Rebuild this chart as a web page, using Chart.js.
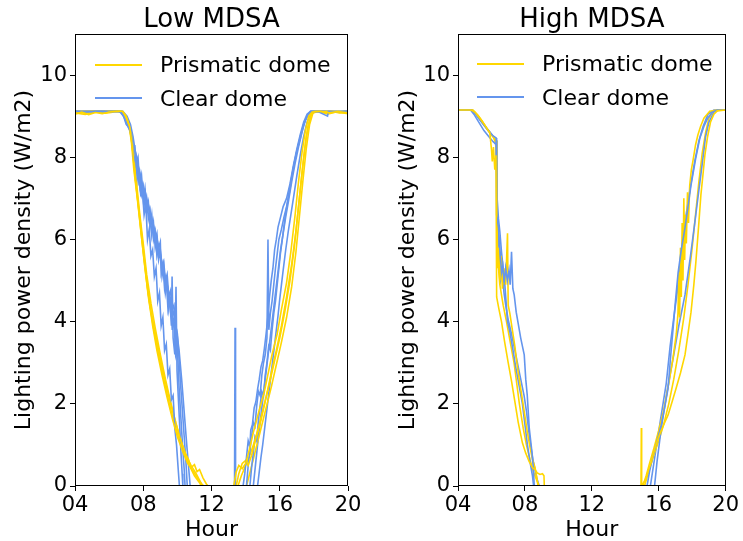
<!DOCTYPE html>
<html>
<head>
<meta charset="utf-8">
<script src="https://cdn.jsdelivr.net/npm/chart.js@4.4.1/dist/chart.umd.min.js"></script>
<style>
  html, body { margin: 0; padding: 0; background: #fff; }
  #wrap { position: relative; width: 743px; height: 541px; overflow: hidden; font-family: "DejaVu Sans", sans-serif; }
  canvas { position: absolute; top: 0; }
  .legend { position: absolute; }
  .legend .row { display: flex; align-items: center; height: 33.5px; font-size: 22px; line-height: 33.5px; color: #000; white-space: nowrap; }
  .legend .swatch { width: 47px; height: 2px; margin-right: 18px; }
</style>
</head>
<body>
<div id="wrap">
  <canvas id="lowChart" width="371" height="541" style="left:0"></canvas>
  <canvas id="highChart" width="372" height="541" style="left:371px"></canvas>
  <div class="legend" id="lowLegend" style="left:95px;top:48px"></div>
  <div class="legend" id="highLegend" style="left:477px;top:47px"></div>
</div>
<script>
// Axis ticks and labels
const hourTicks = [4, 8, 12, 16, 20];
const powerTicks = [0, 2, 4, 6, 8, 10];
const seriesNames = ['Prismatic dome', 'Clear dome'];
const seriesColors = ['#FFD700', '#6495ED'];

// Low MDSA, prismatic dome: daily profiles [hour, W/m2]
const lowPrism1 = [[4.00,9.05],[4.40,9.10],[4.80,9.04],[5.20,9.09],[5.60,9.06],[6.00,9.10],[6.40,9.12],[6.80,9.12],[7.00,9.00],[7.20,8.75],[7.35,8.30],[7.50,7.60],[7.70,6.85],[7.90,6.05],[8.10,5.30],[8.30,4.60],[8.55,3.90],[8.80,3.30],[9.10,2.70],[9.40,2.15],[9.70,1.65],[10.00,1.20],[10.30,0.85],[10.60,0.55],[10.90,0.38],[11.20,0.18],[11.45,0.04],[11.55,0.00],[13.30,0.00],[13.45,0.35],[13.60,0.50],[13.80,0.42],[14.00,0.55],[14.20,0.85],[14.45,1.30],[14.80,1.85],[15.10,2.30],[15.30,2.70],[15.55,3.20],[15.85,3.70],[16.10,4.30],[16.40,4.95],[16.65,5.70],[16.90,6.60],[17.10,7.40],[17.30,8.10],[17.50,8.65],[17.70,9.00],[17.90,9.10],[18.40,9.12],[18.90,9.08],[19.40,9.11],[20.00,9.08]];
const lowPrism2 = [[4.00,9.10],[4.50,9.08],[5.00,9.12],[5.50,9.10],[6.00,9.12],[6.60,9.12],[6.90,9.05],[7.10,8.85],[7.30,8.55],[7.45,8.00],[7.60,7.40],[7.80,6.60],[8.00,5.90],[8.20,5.15],[8.45,4.45],[8.70,3.85],[9.00,3.20],[9.30,2.60],[9.60,2.05],[9.90,1.55],[10.20,1.10],[10.45,0.80],[10.65,0.65],[10.80,0.45],[11.00,0.52],[11.15,0.35],[11.30,0.40],[11.50,0.20],[11.70,0.05],[11.80,0.00],[13.45,0.00],[13.60,0.30],[13.80,0.55],[14.00,0.62],[14.15,0.50],[14.35,0.75],[14.60,1.15],[14.90,1.60],[15.20,2.15],[15.50,2.75],[15.80,3.30],[16.10,3.90],[16.40,4.60],[16.70,5.40],[16.95,6.20],[17.15,7.00],[17.35,7.80],[17.55,8.50],[17.80,9.00],[18.00,9.12],[18.50,9.10],[19.00,9.12],[19.50,9.08],[20.00,9.10]];
const lowPrism3 = [[4.00,9.12],[5.00,9.12],[6.00,9.12],[6.70,9.12],[6.95,9.02],[7.15,8.80],[7.30,8.40],[7.45,7.70],[7.65,7.00],[7.85,6.25],[8.05,5.50],[8.25,4.80],[8.50,4.15],[8.80,3.50],[9.10,2.90],[9.40,2.35],[9.70,1.85],[10.00,1.40],[10.30,1.00],[10.55,0.70],[10.80,0.50],[11.10,0.30],[11.35,0.10],[11.45,0.00],[13.55,0.00],[13.75,0.25],[13.95,0.45],[14.20,0.70],[14.50,1.05],[14.80,1.50],[15.10,2.00],[15.40,2.50],[15.70,3.05],[16.00,3.60],[16.30,4.25],[16.60,5.00],[16.85,5.80],[17.05,6.60],[17.25,7.40],[17.45,8.15],[17.65,8.75],[17.85,9.05],[18.10,9.12],[19.00,9.12],[20.00,9.12]];
const lowPrism4 = [[4.00,9.08],[4.60,9.04],[5.20,9.10],[5.80,9.07],[6.40,9.11],[6.80,9.10],[7.05,8.92],[7.25,8.60],[7.40,8.10],[7.55,7.45],[7.75,6.70],[7.95,5.95],[8.15,5.20],[8.35,4.50],[8.60,3.85],[8.90,3.20],[9.20,2.60],[9.50,2.05],[9.80,1.55],[10.10,1.15],[10.40,0.80],[10.70,0.50],[11.00,0.25],[11.30,0.08],[11.40,0.00],[14.05,0.00],[14.30,0.40],[14.60,0.90],[14.90,1.40],[15.20,1.90],[15.50,2.40],[15.80,2.95],[16.10,3.50],[16.40,4.10],[16.70,4.85],[16.95,5.70],[17.15,6.55],[17.35,7.40],[17.55,8.20],[17.75,8.80],[17.95,9.08],[18.30,9.12],[18.80,9.05],[19.30,9.10],[20.00,9.06]];

// Low MDSA, clear dome
const lowClear1 = [[4.00,9.12],[4.60,9.10],[5.20,9.12],[5.80,9.11],[6.40,9.12],[6.70,9.10],[6.90,8.95],[7.10,8.75],[7.25,8.62],[7.35,8.40],[7.45,7.90],[7.55,8.05],[7.65,7.50],[7.75,7.65],[7.85,7.10],[7.95,7.20],[8.05,6.60],[8.15,6.85],[8.25,6.00],[8.35,6.25],[8.45,5.60],[8.55,5.75],[8.65,5.10],[8.75,5.30],[8.85,4.50],[8.95,4.70],[9.05,3.90],[9.15,4.10],[9.25,3.30],[9.35,3.45],[9.45,2.70],[9.55,2.85],[9.65,2.10],[9.75,2.20],[9.85,1.40],[9.95,1.00],[10.05,0.40],[10.12,0.00],[13.85,0.00],[13.95,0.30],[14.05,0.70],[14.15,1.10],[14.25,0.95],[14.30,1.36],[14.40,1.50],[14.50,1.90],[14.60,2.05],[14.70,2.35],[14.80,2.60],[14.90,2.90],[15.00,3.05],[15.10,3.35],[15.20,3.70],[15.30,4.10],[15.40,4.60],[15.50,5.00],[15.60,5.30],[15.70,5.75],[15.80,6.00],[15.90,6.30],[16.05,6.55],[16.20,6.80],[16.40,7.00],[16.60,7.35],[16.80,7.80],[17.00,8.20],[17.20,8.55],[17.40,8.85],[17.60,9.05],[17.80,9.12],[18.30,9.10],[18.80,9.00],[18.85,9.12],[19.40,9.11],[20.00,9.12]];
const lowClear2 = [[4.00,9.12],[5.00,9.11],[6.00,9.12],[6.60,9.12],[6.85,9.00],[7.00,8.80],[7.20,8.70],[7.35,8.55],[7.42,8.00],[7.50,8.30],[7.60,7.70],[7.70,7.95],[7.80,7.30],[7.90,7.55],[8.00,7.00],[8.10,7.25],[8.20,6.70],[8.30,6.90],[8.40,6.30],[8.50,6.60],[8.60,6.00],[8.70,6.20],[8.80,5.60],[8.90,5.80],[9.00,5.94],[9.05,5.20],[9.15,5.40],[9.25,4.80],[9.35,5.00],[9.45,4.30],[9.55,4.55],[9.65,3.90],[9.69,5.10],[9.75,3.60],[9.85,3.20],[9.92,4.85],[9.98,2.80],[10.05,2.20],[10.12,1.60],[10.20,0.90],[10.28,0.30],[10.32,0.00],[13.35,0.00],[13.38,3.85],[13.41,0.00],[14.05,0.00],[14.15,0.50],[14.25,0.85],[14.35,1.20],[14.45,1.55],[14.55,1.45],[14.65,1.95],[14.75,2.30],[14.85,2.20],[14.95,2.70],[15.05,3.00],[15.15,3.20],[15.25,3.60],[15.31,6.00],[15.36,3.80],[15.45,4.20],[15.55,4.50],[15.65,4.90],[15.75,5.30],[15.85,5.65],[15.95,6.00],[16.10,6.25],[16.25,6.55],[16.40,6.80],[16.55,7.10],[16.70,7.50],[16.85,7.85],[17.00,8.15],[17.20,8.45],[17.40,8.80],[17.60,9.00],[17.80,9.12],[18.50,9.12],[19.20,9.10],[20.00,9.12]];
const lowClear3 = [[4.00,9.10],[5.00,9.12],[6.00,9.11],[6.70,9.12],[6.95,9.00],[7.15,8.80],[7.30,8.50],[7.40,8.20],[7.50,7.80],[7.60,8.00],[7.70,7.40],[7.80,7.60],[7.90,7.10],[8.00,7.30],[8.10,6.80],[8.20,7.00],[8.30,6.50],[8.40,6.70],[8.50,6.10],[8.60,6.40],[8.70,5.80],[8.80,6.00],[8.90,5.50],[9.00,5.70],[9.10,5.10],[9.20,5.35],[9.30,4.70],[9.40,4.95],[9.50,4.30],[9.60,4.60],[9.70,3.80],[9.80,4.10],[9.90,3.20],[10.00,3.40],[10.10,2.40],[10.20,1.70],[10.30,1.00],[10.40,0.40],[10.45,0.00],[14.25,0.00],[14.35,0.45],[14.45,0.80],[14.55,1.20],[14.65,1.10],[14.75,1.60],[14.85,1.95],[14.95,2.30],[15.05,2.20],[15.15,2.70],[15.25,3.00],[15.35,3.40],[15.45,3.30],[15.55,3.80],[15.65,4.20],[15.75,4.50],[15.85,4.90],[15.95,5.30],[16.05,5.70],[16.15,6.00],[16.30,6.50],[16.45,6.90],[16.60,7.30],[16.80,7.75],[17.00,8.15],[17.20,8.50],[17.40,8.80],[17.60,9.00],[17.85,9.12],[18.60,9.10],[19.30,9.12],[20.00,9.11]];
const lowClear4 = [[4.00,9.12],[5.00,9.12],[6.00,9.12],[6.75,9.12],[7.00,9.00],[7.20,8.75],[7.35,8.45],[7.45,8.10],[7.55,7.80],[7.65,7.95],[7.75,7.40],[7.85,7.55],[7.95,7.10],[8.10,7.20],[8.25,6.90],[8.40,6.60],[8.55,6.30],[8.70,6.00],[8.80,6.15],[8.90,5.60],[9.00,5.75],[9.10,5.30],[9.20,5.45],[9.30,5.00],[9.40,5.15],[9.50,4.60],[9.60,4.75],[9.70,4.30],[9.80,4.40],[9.90,3.90],[10.00,3.70],[10.10,3.10],[10.20,2.40],[10.30,1.80],[10.40,1.20],[10.50,0.60],[10.58,0.00],[14.45,0.00],[14.55,0.40],[14.65,0.80],[14.75,1.20],[14.85,1.55],[14.95,1.90],[15.05,2.25],[15.15,2.60],[15.25,2.95],[15.35,3.30],[15.45,3.65],[15.55,4.00],[15.65,4.35],[15.75,4.70],[15.85,5.05],[15.95,5.40],[16.05,5.75],[16.20,6.15],[16.35,6.55],[16.50,6.90],[16.70,7.40],[16.90,7.85],[17.10,8.25],[17.30,8.60],[17.50,8.90],[17.70,9.05],[17.90,9.12],[18.70,9.12],[19.40,9.10],[20.00,9.12]];
const lowClear5 = [[4.00,9.11],[5.00,9.12],[6.00,9.12],[6.80,9.12],[7.05,9.00],[7.25,8.80],[7.40,8.50],[7.55,8.10],[7.70,7.80],[7.85,7.50],[8.00,7.25],[8.15,7.00],[8.30,6.85],[8.45,6.60],[8.60,6.35],[8.75,6.10],[8.90,5.85],[9.05,5.55],[9.20,5.25],[9.35,5.00],[9.50,4.70],[9.65,4.45],[9.80,4.15],[9.95,3.80],[10.10,3.30],[10.25,2.60],[10.40,1.80],[10.55,1.00],[10.65,0.50],[10.75,0.00],[14.70,0.00],[14.80,0.35],[14.90,0.70],[15.00,1.00],[15.10,1.35],[15.20,1.70],[15.30,2.05],[15.40,2.40],[15.50,2.75],[15.60,3.10],[15.70,3.45],[15.80,3.80],[15.90,4.15],[16.00,4.55],[16.10,4.90],[16.20,5.25],[16.35,5.75],[16.50,6.20],[16.65,6.60],[16.80,7.00],[17.00,7.55],[17.20,8.05],[17.40,8.50],[17.60,8.85],[17.80,9.05],[18.00,9.12],[18.80,9.12],[19.50,9.10],[20.00,9.12]];

// High MDSA, prismatic dome
const highPrism1 = [[4.00,9.15],[4.80,9.15],[5.00,9.10],[5.30,8.95],[5.60,8.78],[5.90,8.60],[6.00,8.20],[6.05,7.90],[6.12,8.25],[6.20,7.70],[6.27,8.05],[6.31,4.60],[6.45,4.30],[6.60,4.00],[6.79,3.50],[7.00,3.00],[7.20,2.55],[7.38,2.10],[7.60,1.55],[7.85,1.05],[8.05,0.80],[8.25,0.60],[8.45,0.45],[8.60,0.40],[8.74,0.32],[8.90,0.28],[9.05,0.30],[9.14,0.25],[9.16,0.00],[14.94,0.00],[14.96,1.41],[14.98,0.00],[15.20,0.15],[15.40,0.40],[15.56,0.58],[15.75,0.90],[15.97,1.17],[16.25,1.45],[16.56,1.73],[16.80,2.05],[17.04,2.38],[17.30,2.75],[17.57,3.19],[17.75,3.70],[17.93,4.23],[18.10,4.90],[18.22,5.45],[18.38,6.30],[18.52,7.08],[18.65,7.60],[18.76,8.05],[18.92,8.50],[19.10,8.86],[19.30,9.05],[19.50,9.13],[20.00,9.15]];
const highPrism2 = [[4.00,9.15],[4.85,9.15],[5.10,9.05],[5.40,8.90],[5.70,8.72],[6.00,8.55],[6.20,8.45],[6.32,8.40],[6.35,5.30],[6.42,5.80],[6.50,5.00],[6.58,5.60],[6.65,4.80],[6.75,5.30],[6.85,4.90],[6.96,6.15],[7.00,4.40],[7.10,4.20],[7.25,3.80],[7.40,3.40],[7.55,2.90],[7.70,2.50],[7.85,2.10],[8.00,1.70],[8.15,1.30],[8.30,0.95],[8.45,0.65],[8.60,0.46],[8.72,0.20],[8.78,0.00],[15.05,0.00],[15.25,0.25],[15.45,0.55],[15.70,0.90],[16.00,1.35],[16.30,1.85],[16.60,2.50],[16.85,3.10],[17.05,3.70],[17.15,4.20],[17.20,5.20],[17.25,4.10],[17.30,5.80],[17.35,4.60],[17.40,6.40],[17.45,5.00],[17.50,7.00],[17.55,5.50],[17.60,6.60],[17.65,5.90],[17.72,7.15],[17.78,6.40],[17.85,7.30],[17.95,7.70],[18.04,7.90],[18.20,8.30],[18.34,8.54],[18.50,8.75],[18.70,8.95],[19.05,9.12],[19.50,9.15],[20.00,9.15]];
const highPrism3 = [[4.00,9.15],[4.90,9.15],[5.20,9.02],[5.50,8.85],[5.80,8.65],[6.10,8.50],[6.25,8.35],[6.33,7.50],[6.36,5.60],[6.50,4.90],[6.70,4.40],[6.90,4.00],[7.10,3.55],[7.35,3.00],[7.67,2.00],[7.90,1.40],[8.09,1.00],[8.30,0.65],[8.50,0.35],[8.70,0.15],[8.85,0.00],[15.15,0.00],[15.40,0.35],[15.70,0.75],[16.00,1.10],[16.30,1.50],[16.60,2.00],[16.90,2.60],[17.20,3.30],[17.50,4.10],[17.75,4.90],[18.00,5.80],[18.20,6.60],[18.40,7.40],[18.60,8.10],[18.80,8.60],[19.00,8.95],[19.25,9.12],[19.60,9.15],[20.00,9.15]];

// High MDSA, clear dome
const highClear1 = [[4.00,9.15],[4.80,9.15],[5.00,9.08],[5.30,8.92],[5.60,8.76],[5.90,8.62],[6.10,8.52],[6.28,8.47],[6.31,6.60],[6.42,6.28],[6.52,5.70],[6.60,5.20],[6.68,5.35],[6.76,4.95],[6.85,5.30],[6.95,5.00],[7.05,5.25],[7.12,4.90],[7.20,5.70],[7.28,4.80],[7.36,4.65],[7.48,4.23],[7.60,3.95],[7.75,3.60],[7.96,3.19],[8.05,2.60],[8.14,2.21],[8.26,1.41],[8.40,0.90],[8.50,0.45],[8.56,0.00],[15.30,0.00],[15.45,0.35],[15.67,0.75],[15.90,1.10],[16.15,1.48],[16.35,1.90],[16.56,2.38],[16.70,3.10],[16.86,3.84],[17.00,4.50],[17.16,5.20],[17.35,5.75],[17.57,6.28],[17.75,6.80],[17.93,7.32],[18.20,7.95],[18.46,8.47],[18.70,8.75],[18.93,8.95],[19.20,9.10],[19.50,9.15],[20.00,9.15]];
const highClear2 = [[4.00,9.15],[4.75,9.15],[4.95,9.05],[5.25,8.85],[5.55,8.65],[5.85,8.50],[6.10,8.38],[6.30,8.30],[6.34,7.00],[6.42,6.50],[6.50,6.20],[6.60,5.70],[6.70,5.30],[6.80,4.90],[6.96,4.00],[7.10,3.75],[7.25,3.40],[7.45,2.90],[7.65,2.45],[7.85,2.00],[8.00,1.50],[8.15,1.00],[8.30,0.60],[8.45,0.25],[8.52,0.00],[15.75,0.00],[15.90,0.60],[16.15,1.40],[16.50,2.30],[16.90,3.20],[17.20,3.90],[17.57,4.65],[17.90,5.60],[18.16,6.42],[18.40,7.20],[18.62,7.90],[18.80,8.50],[19.00,8.85],[19.30,9.10],[19.60,9.15],[20.00,9.15]];
const highClear3 = [[4.00,9.15],[4.85,9.15],[5.10,9.02],[5.40,8.86],[5.70,8.70],[6.00,8.55],[6.20,8.45],[6.30,8.40],[6.33,6.80],[6.40,6.20],[6.48,5.50],[6.55,5.00],[6.65,5.20],[6.75,4.70],[6.85,4.40],[7.00,4.05],[7.20,3.70],[7.45,3.20],[7.70,2.70],[7.95,2.20],[8.10,1.80],[8.30,1.10],[8.50,0.60],[8.70,0.20],[8.86,0.00],[15.50,0.00],[15.80,0.80],[16.10,1.60],[16.45,2.50],[16.68,3.40],[16.90,4.10],[17.10,4.70],[17.33,5.67],[17.60,6.50],[17.90,7.30],[18.15,7.90],[18.40,8.40],[18.65,8.75],[18.95,9.05],[19.30,9.15],[20.00,9.15]];

const FONT = '"DejaVu Sans", sans-serif';

// Black box around the plotting area
const framePlugin = {
  id: 'frame',
  afterDatasetsDraw(chart) {
    const { ctx, chartArea: a } = chart;
    ctx.save();
    ctx.strokeStyle = '#000';
    ctx.lineWidth = 1;
    ctx.strokeRect(Math.round(a.left) + 0.5, Math.round(a.top) + 0.5,
                   Math.round(a.right - a.left) - 1, Math.round(a.bottom - a.top) - 1);
    ctx.restore();
  }
};

function lineSet(points, color, label) {
  return {
    label,
    data: points.map(([x, y]) => ({ x, y })),
    borderColor: color,
    backgroundColor: color,
    borderWidth: 1.6,
    pointRadius: 0,
    tension: 0,
    fill: false
  };
}

function buildDatasets(prismLines, clearLines) {
  const out = [];
  const n = Math.max(prismLines.length, clearLines.length);
  for (let i = 0; i < n; i++) {
    if (prismLines[i]) out.push(lineSet(prismLines[i], seriesColors[0], seriesNames[0]));
    if (clearLines[i]) out.push(lineSet(clearLines[i], seriesColors[1], seriesNames[1]));
  }
  return out;
}

function makePanel(canvasId, titleText, prismLines, clearLines, yAxisWidth, yTitlePad, rightPad) {
  const tickFont = { family: FONT, size: 21, lineHeight: 1 };
  const labelFont = { family: FONT, size: 22, lineHeight: 1 };
  return new Chart(document.getElementById(canvasId), {
    type: 'line',
    data: { datasets: buildDatasets(prismLines, clearLines) },
    options: {
      responsive: false,
      animation: false,
      devicePixelRatio: 1,
      events: [],
      layout: { padding: { left: 0, right: rightPad, top: 0, bottom: 0 } },
      plugins: {
        legend: { display: false },
        tooltip: { enabled: false },
        title: {
          display: true,
          text: titleText,
          fullSize: false,
          color: '#000',
          font: { family: FONT, size: 26, weight: 'normal', lineHeight: 1 },
          padding: { top: 7, bottom: 1 }
        }
      },
      scales: {
        x: {
          type: 'linear',
          min: hourTicks[0],
          max: hourTicks[hourTicks.length - 1],
          afterBuildTicks: (scale) => { scale.ticks = hourTicks.map(v => ({ value: v })); },
          ticks: {
            callback: (v) => String(v).padStart(2, '0'),
            font: tickFont, color: '#000', padding: 4, maxRotation: 0, autoSkip: false
          },
          grid: { display: true, drawOnChartArea: false, drawTicks: true, tickLength: 5, tickColor: '#000' },
          border: { display: false },
          title: { display: true, text: 'Hour', color: '#000', font: labelFont, padding: { top: 0, bottom: 0 } },
          afterFit: (scale) => { scale.height = 55; }
        },
        y: {
          type: 'linear',
          min: 0,
          max: 11,
          afterBuildTicks: (scale) => { scale.ticks = powerTicks.map(v => ({ value: v })); },
          ticks: { font: tickFont, color: '#000', padding: 3 },
          grid: { display: true, drawOnChartArea: false, drawTicks: true, tickLength: 5, tickColor: '#000' },
          border: { display: false },
          title: {
            display: true, text: 'Lighting power density (W/m2)', color: '#000',
            font: labelFont, padding: { top: yTitlePad, bottom: 0 }
          },
          afterFit: (scale) => { scale.width = yAxisWidth; }
        }
      }
    },
    plugins: [framePlugin]
  });
}

function makeLegend(id) {
  const box = document.getElementById(id);
  seriesNames.forEach((name, i) => {
    const row = document.createElement('div');
    row.className = 'row';
    const sw = document.createElement('span');
    sw.className = 'swatch';
    sw.style.background = seriesColors[i];
    const txt = document.createElement('span');
    txt.textContent = name;
    row.appendChild(sw);
    row.appendChild(txt);
    box.appendChild(row);
  });
}

makePanel('lowChart', 'Low MDSA',
  [lowPrism1, lowPrism2, lowPrism3, lowPrism4],
  [lowClear1, lowClear2, lowClear3, lowClear4, lowClear5],
  75, 13, 23);
makePanel('highChart', 'High MDSA',
  [highPrism1, highPrism2, highPrism3],
  [highClear1, highClear2, highClear3],
  87, 26, 15);
makeLegend('lowLegend');
makeLegend('highLegend');
</script>
</body>
</html>
